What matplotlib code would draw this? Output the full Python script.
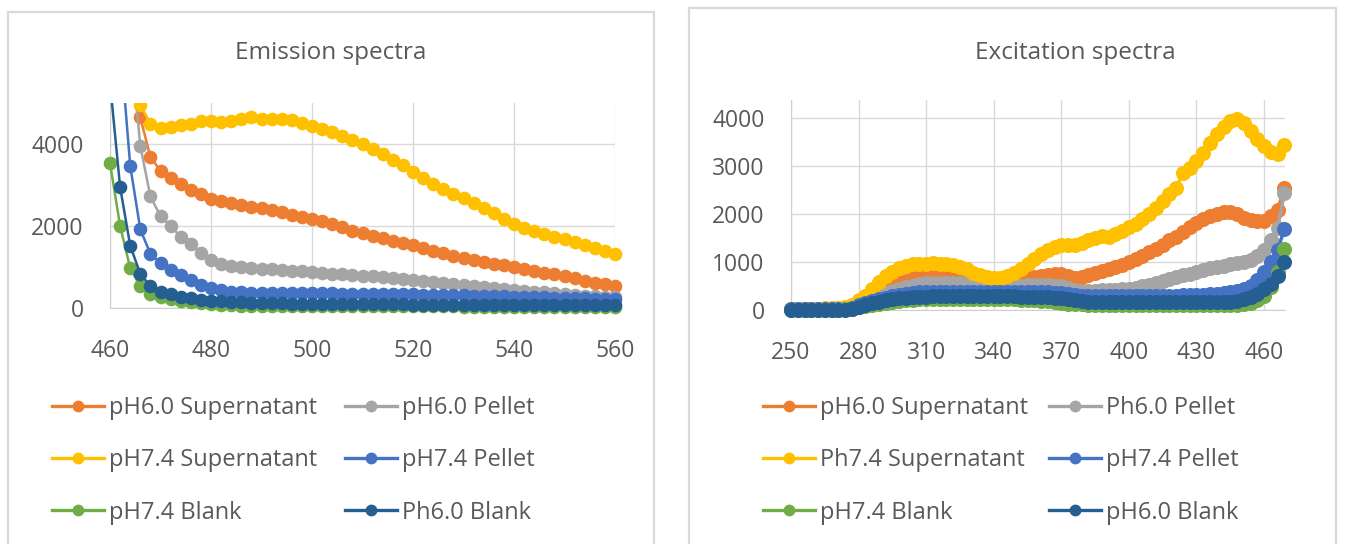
import matplotlib
matplotlib.use('Agg')
import matplotlib.pyplot as plt
from matplotlib.lines import Line2D
from matplotlib.patches import Rectangle

plt.rcParams['font.family'] = ['Open Sans', 'DejaVu Sans']

# ---- emission spectra (left) ----
em_x = [460, 462, 464, 466, 468, 470, 472, 474, 476, 478,
        480, 482, 484, 486, 488, 490, 492, 494, 496, 498,
        500, 502, 504, 506, 508, 510, 512, 514, 516, 518,
        520, 522, 524, 526, 528, 530, 532, 534, 536, 538,
        540, 542, 544, 546, 548, 550, 552, 554, 556, 558, 560]
em_ph60_sup = [12000, 8500, 6500, 4650, 3680, 3350, 3180, 3030, 2890, 2780,
               2670, 2600, 2560, 2510, 2470, 2430, 2380, 2330, 2280, 2230,
               2180, 2110, 2040, 1970, 1890, 1820, 1760, 1700, 1640, 1590,
               1530, 1460, 1400, 1340, 1270, 1210, 1170, 1130, 1080, 1040,
               1000, 950, 910, 860, 820, 770, 720, 670, 620, 580, 530]
em_ph60_pel = [11000, 8500, 6500, 3960, 2720, 2240, 2000, 1740, 1560, 1340,
               1170, 1080, 1030, 1000, 980, 960, 950, 930, 910, 900,
               880, 860, 840, 820, 800, 790, 770, 750, 730, 700,
               680, 660, 640, 610, 590, 560, 540, 520, 490, 470,
               440, 420, 400, 380, 360, 340, 320, 300, 290, 270, 260]
em_ph74_sup = [14000, 11000, 8000, 4950, 4500, 4380, 4420, 4470, 4500, 4560,
               4560, 4540, 4570, 4600, 4660, 4600, 4600, 4620, 4590, 4520,
               4440, 4370, 4290, 4200, 4100, 4000, 3880, 3750, 3620, 3480,
               3320, 3160, 3020, 2900, 2780, 2680, 2560, 2440, 2310, 2180,
               2060, 1960, 1880, 1800, 1740, 1680, 1610, 1540, 1470, 1390, 1310]
em_ph74_pel = [9000, 6500, 3470, 1920, 1320, 1090, 930, 800, 680, 570,
               490, 430, 400, 380, 370, 365, 360, 360, 360, 360,
               360, 355, 355, 350, 350, 345, 340, 340, 335, 330,
               330, 325, 320, 315, 310, 305, 300, 295, 290, 285,
               280, 275, 265, 260, 255, 250, 245, 240, 230, 225, 220]
em_ph74_blank = [3540, 2000, 970, 530, 350, 260, 210, 170, 140, 115,
                 95, 80, 70, 60, 55, 50, 45, 45, 45, 40,
                 40, 40, 40, 40, 40, 40, 40, 40, 40, 40,
                 40, 40, 40, 40, 40, 35, 35, 35, 35, 35,
                 35, 35, 30, 30, 30, 30, 30, 30, 30, 30, 30]
em_ph60_blank = [5500, 2950, 1520, 830, 540, 400, 330, 280, 240, 200,
                 175, 160, 145, 135, 125, 120, 115, 110, 105, 100,
                 95, 95, 95, 90, 90, 90, 90, 90, 90, 90,
                 85, 85, 85, 85, 85, 85, 85, 85, 85, 85,
                 80, 80, 80, 80, 80, 80, 80, 80, 80, 80, 80]

# ---- excitation spectra (right) ----
ex_x = [250, 253, 256, 259, 262, 265, 268, 271, 274, 277,
        280, 283, 286, 289, 292, 295, 298,
        301, 304, 307, 310, 313, 316, 319,
        322, 325, 328, 331, 334, 337, 340,
        343, 346, 349, 352, 355, 358, 361,
        364, 367, 370, 373, 376, 379, 382,
        385, 388, 391, 394, 397, 400, 403,
        406, 409, 412, 415, 418, 421, 424,
        427, 430, 433, 436, 439, 442, 445,
        448, 451, 454, 457, 460, 463, 466, 469]
ex_ph60_sup = [20, 20, 20, 20, 20, 20, 20, 20, 30, 50,
               100, 180, 260, 350, 430, 500, 560,
               610, 660, 700, 720, 730, 730, 720,
               700, 670, 620, 570, 520, 500, 510,
               560, 600, 630, 650, 670, 690, 710,
               730, 740, 740, 700, 670, 680, 720,
               770, 810, 850, 890, 940, 1000, 1060,
               1130, 1200, 1280, 1360, 1450, 1530, 1620,
               1720, 1810, 1890, 1960, 2010, 2040, 2050,
               2000, 1920, 1870, 1850, 1860, 1950, 2080, 2540]
ex_ph60_pel = [20, 20, 20, 20, 20, 20, 20, 20, 30, 50,
               100, 160, 220, 290, 350, 400, 440,
               480, 510, 540, 555, 565, 570, 570,
               565, 555, 535, 515, 495, 485, 485,
               490, 500, 505, 510, 515, 520, 520,
               520, 510, 490, 450, 420, 400, 390,
               400, 410, 415, 420, 430, 440, 460,
               490, 520, 560, 600, 640, 680, 720,
               760, 800, 840, 870, 900, 920, 950,
               980, 1000, 1050, 1130, 1250, 1450, 1700, 2430]
ex_ph74_sup = [30, 30, 30, 30, 30, 40, 40, 50, 60, 100,
               200, 300, 430, 580, 700, 800, 870,
               920, 950, 960, 965, 970, 965, 950,
               940, 900, 850, 780, 720, 680, 660,
               670, 710, 770, 850, 950, 1060, 1160,
               1250, 1320, 1350, 1350, 1360, 1400, 1450,
               1510, 1540, 1520, 1580, 1650, 1730, 1800,
               1900, 2000, 2130, 2280, 2420, 2550, 2850,
               2950, 3100, 3280, 3480, 3660, 3820, 3930,
               3980, 3900, 3720, 3560, 3420, 3300, 3250, 3440]
ex_ph74_pel = [20, 20, 20, 20, 20, 20, 20, 20, 30, 50,
               100, 150, 190, 230, 260, 290, 320,
               340, 360, 370, 380, 385, 385, 385,
               385, 385, 385, 385, 385, 385, 385,
               385, 385, 385, 380, 375, 375, 375,
               370, 360, 350, 330, 310, 300, 290,
               290, 290, 290, 290, 290, 290, 290,
               290, 290, 290, 290, 295, 300, 305,
               310, 315, 320, 330, 340, 350, 370,
               400, 440, 500, 620, 800, 1000, 1250, 1680]
ex_ph74_blank = [10, 10, 10, 10, 10, 10, 10, 10, 20, 30,
                 60, 90, 110, 130, 150, 170, 190,
                 200, 210, 220, 225, 230, 230, 230,
                 230, 230, 230, 230, 230, 230, 230,
                 230, 230, 220, 210, 205, 200, 195,
                 190, 170, 150, 130, 120, 115, 110,
                 110, 105, 105, 100, 100, 100, 100,
                 100, 100, 100, 100, 100, 100, 100,
                 100, 100, 100, 100, 100, 100, 100,
                 105, 120, 150, 200, 300, 480, 800, 1270]
ex_ph60_blank = [10, 10, 10, 10, 10, 10, 10, 10, 10, 30,
                 60, 100, 140, 170, 200, 220, 240,
                 255, 265, 275, 280, 285, 290, 290,
                 290, 290, 290, 290, 290, 290, 290,
                 290, 290, 285, 280, 280, 275, 270,
                 265, 255, 240, 220, 200, 185, 175,
                 170, 160, 160, 160, 160, 160, 160,
                 160, 160, 160, 160, 160, 160, 160,
                 160, 160, 160, 160, 160, 160, 170,
                 190, 220, 270, 340, 430, 540, 700, 1000]

colors = ['#ED7D31', '#A5A5A5', '#FFC000', '#4472C4', '#70AD47', '#255E91']
em_labels = ['pH6.0 Supernatant', 'pH6.0 Pellet', 'pH7.4 Supernatant',
             'pH7.4 Pellet', 'pH7.4 Blank', 'Ph6.0 Blank']
ex_labels = ['pH6.0 Supernatant', 'Ph6.0 Pellet', 'Ph7.4 Supernatant',
             'pH7.4 Pellet', 'pH7.4 Blank', 'pH6.0 Blank']

W, H = 1349, 544
TXT = '#595959'
GRID = '#D9D9D9'


def fx(x):
    return x / W


def fy(y):
    return 1 - y / H


fig = plt.figure(figsize=(W / 100, H / 100), dpi=100)

# excel chart borders
for x0, x1, y0 in [(8, 654, 12), (689, 1336, 8)]:
    fig.add_artist(Line2D([fx(x0), fx(x0), fx(x1), fx(x1)], [0, fy(y0), fy(y0), 0],
                          transform=fig.transFigure, color=GRID, lw=1.6))


def make_chart(box, title, title_x, x, series, labels, xlim, ylim, xticks, yticks, ms, lw,
               leg_xy, colspace):
    l, t, r, b = box
    ax = fig.add_axes([fx(l), fy(b), fx(r) - fx(l), fy(t) - fy(b)])
    for vals, c in zip(series, colors):
        ln, = ax.plot(x, vals, color=c, lw=lw, marker='o', ms=ms, mec=c, mfc=c, zorder=3)
        ln.set_clip_path(Rectangle((-0.05, -0.3), 1.1, 1.3, transform=ax.transAxes))
    ax.set_xlim(*xlim)
    ax.set_ylim(*ylim)
    ax.set_xticks(xticks)
    ax.set_yticks(yticks)
    ax.grid(color=GRID, lw=1)
    ax.set_axisbelow(True)
    for s in ['top', 'right']:
        ax.spines[s].set_visible(False)
    for s in ['left', 'bottom']:
        ax.spines[s].set_color('#CFCFCF')
    ax.tick_params(length=0, labelsize=16.5, labelcolor=TXT)
    ax.tick_params(axis='x', pad=22)
    ax.tick_params(axis='y', pad=19)
    fig.text(fx(title_x), fy(53), title, ha='center', va='center', fontsize=17.5, color=TXT)

    handles = [Line2D([], [], color=c, lw=2.4, marker='o', ms=7.5) for c in colors]
    order = [0, 2, 4, 1, 3, 5]
    fig.legend([handles[i] for i in order], [labels[i] for i in order],
               loc='upper left', bbox_to_anchor=(fx(leg_xy[0]), fy(leg_xy[1])),
               ncol=2, frameon=False, borderpad=0, borderaxespad=0,
               handlelength=2.2, handletextpad=0.2, columnspacing=colspace,
               labelspacing=1.2, fontsize=17, labelcolor=TXT)
    return ax


make_chart((110, 103, 615, 308), 'Emission spectra', 331, em_x,
           [em_ph60_sup, em_ph60_pel, em_ph74_sup, em_ph74_pel, em_ph74_blank, em_ph60_blank],
           em_labels, (460, 560), (0, 5000), range(460, 561, 20), [0, 2000, 4000], 8.8, 1.8,
           (52, 396), 1.2)

make_chart((791, 100, 1285, 310), 'Excitation spectra', 1075, ex_x,
           [ex_ph60_sup, ex_ph60_pel, ex_ph74_sup, ex_ph74_pel, ex_ph74_blank, ex_ph60_blank],
           ex_labels, (250, 469.3), (0, 4375), range(250, 461, 30), range(0, 4001, 1000), 9.8, 2.5,
           (763, 396), 0.9)

fig.savefig('out.png', dpi=100)
